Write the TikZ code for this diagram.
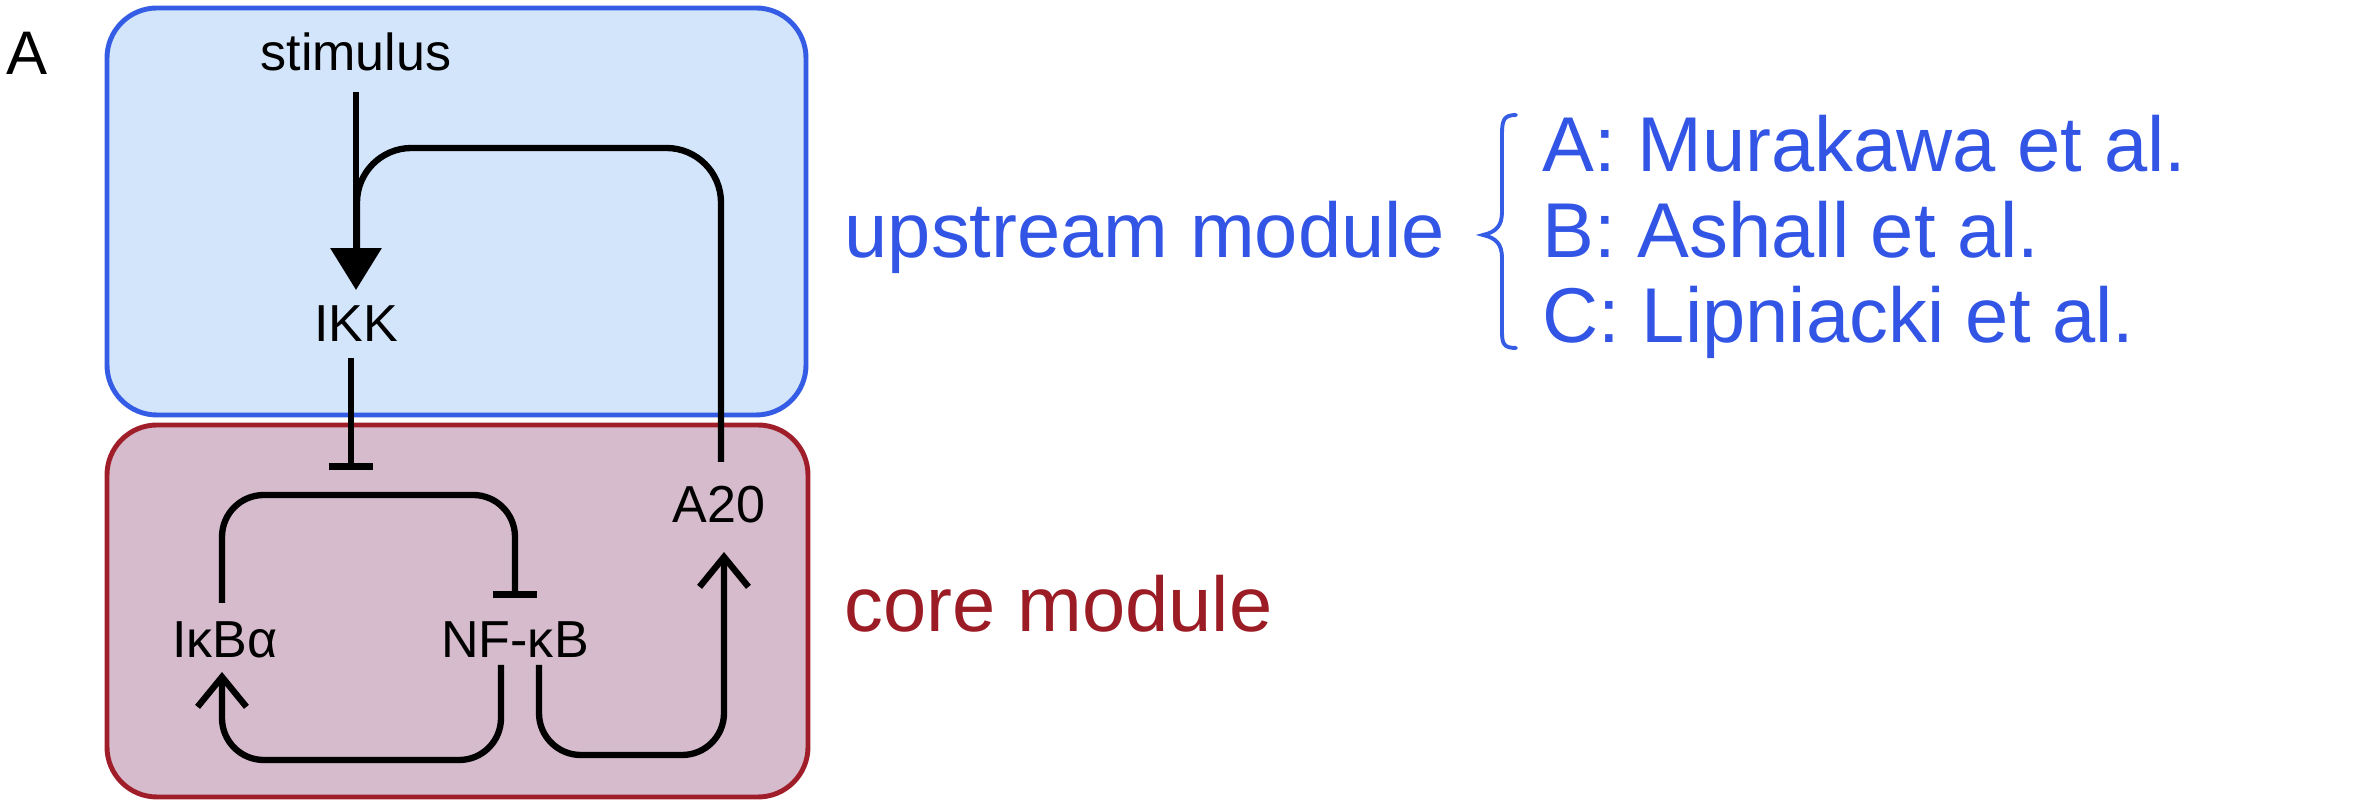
\documentclass[tikz,border=0pt]{standalone}
\usepackage{fontspec}
\setmainfont{Liberation Sans}
\usetikzlibrary{arrows.meta}
\definecolor{upfill}{RGB}{211,229,250}
\definecolor{updraw}{RGB}{52,92,228}
\definecolor{uptext}{RGB}{50,85,230}
\definecolor{corefill}{RGB}{213,187,203}
\definecolor{coredraw}{RGB}{160,30,42}
\definecolor{coretext}{RGB}{155,28,36}
\tikzset{
  modbox/.style={line width=1.4pt, rounded corners=14.2pt},
  lbl/.style={anchor=base, inner sep=0pt, font=\fontsize{14.8}{17}\selectfont},
  rlbl/.style={anchor=base west, inner sep=0pt, font=\fontsize{22.1}{26}\selectfont},
  conn/.style={line width=1.8pt, rounded corners=11.9pt},
  act/.style={conn, -{Straight Barb[length=8.5pt, width=13.9pt, line width=1.8pt]}},
  inh/.style={conn, -{Bar[width=12.5pt, line width=2pt]}},
  stim/.style={line width=1.8pt, -{Triangle[length=11.9pt, width=14.2pt]}},
}
\begin{document}
\begin{tikzpicture}[x=0.01cm, y=-0.01cm]
\useasboundingbox (0,0) rectangle (2372,804);
% module boxes
\draw[modbox, fill=upfill, draw=updraw] (107,8) rectangle (806,415);
\draw[modbox, fill=corefill, draw=coredraw] (107,425) rectangle (808,797);
% panel label
\node[anchor=base, inner sep=0pt, font=\fontsize{17.5}{20}\selectfont] (panel) at (27,75) {A};
% species
\node[lbl] (stimulus) at (356,71) {stimulus};
\node[lbl] (ikk) at (356,342) {IKK};
\node[lbl] (ikba) at (225,658) {IκBα};
\node[lbl] (nfkb) at (515,658) {NF-κB};
\node[lbl] (a20) at (719,523) {A20};
% helper coordinates
\coordinate (s1) at (356,92);
\coordinate (s2) at (356,290);
\coordinate (f1) at (721,462);
\coordinate (k1) at (351,358);
\coordinate (k2) at (351,470);
\coordinate (i1) at (222,603);
\coordinate (n1) at (515,598);
\coordinate (n2) at (501,665);
\coordinate (i2) at (222,672);
\coordinate (n3) at (539,665);
\coordinate (a1) at (724,552);
% connectors
\draw[conn, rounded corners=15.5pt] (f1) -- (721,148) -- (357,148) -- (357,250);
\draw[stim] (s1) -- (s2);
\draw[inh] (k1) -- (k2);
\draw[inh] (i1) -- (222,495) -- (515,495) -- (n1);
\draw[act] (n2) -- (501,760) -- (222,760) -- (i2);
\draw[act] (n3) -- (539,755) -- (724,755) -- (a1);
% right-hand labels
\node[rlbl, text=uptext] (upmod) at (844,258) {upstream module};
\node[rlbl, text=coretext] (coremod) at (844,632) {core module};
\node[rlbl, text=uptext] (ma) at (1542,172) {A: Murakawa et al.};
\node[rlbl, text=uptext] (mb) at (1542,258) {B: Ashall et al.};
\node[rlbl, text=uptext] (mc) at (1542,343) {C: Lipniacki et al.};
% brace
\draw[updraw, line width=1.1pt, line cap=round]
  (1516,115) .. controls (1504,115) and (1502,120) .. (1502,134)
  -- (1502,212) .. controls (1502,226) and (1496,232) .. (1483,235)
  .. controls (1496,238) and (1502,244) .. (1502,258)
  -- (1502,332) .. controls (1502,344) and (1504,348) .. (1516,348);
\end{tikzpicture}
\end{document}
